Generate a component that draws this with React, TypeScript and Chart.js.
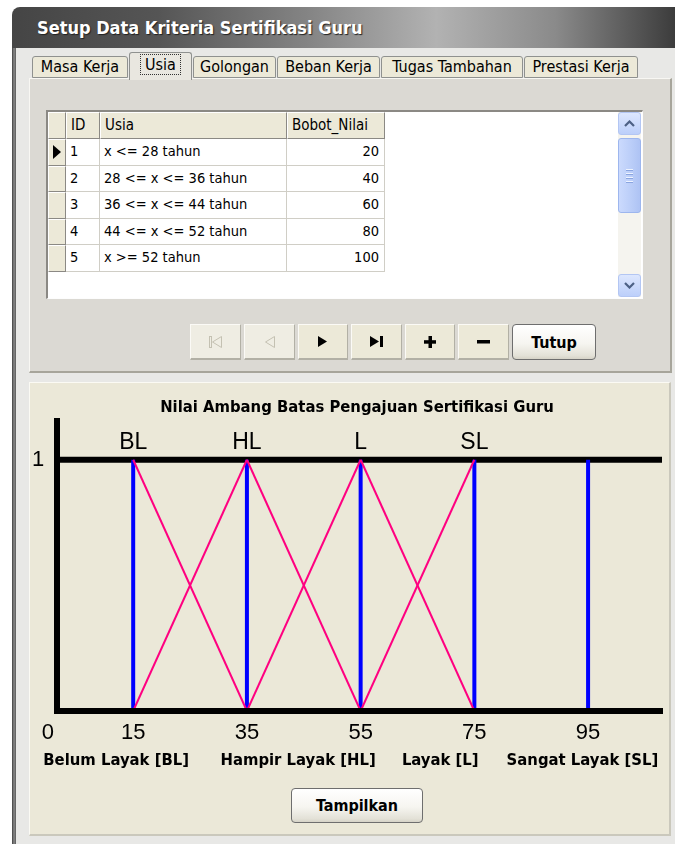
import React, { useEffect, useRef } from "react";
import { Chart, registerables } from "chart.js";

Chart.register(...registerables);

// ---------------- data ----------------
const windowTitle = "Setup Data Kriteria Sertifikasi Guru";
const tabNames = ["Masa Kerja", "Usia", "Golongan", "Beban Kerja", "Tugas Tambahan", "Prestasi Kerja"];
const gridHeaders = ["ID", "Usia", "Bobot_Nilai"];
const gridIds = [1, 2, 3, 4, 5];
const gridUsia = ["x <= 28 tahun", "28 <= x <= 36 tahun", "36 <= x <= 44 tahun", "44 <= x <= 52 tahun", "x >= 52 tahun"];
const gridBobot = [20, 40, 60, 80, 100];

const chartTitle = "Nilai Ambang Batas Pengajuan Sertifikasi Guru";
const levelCodes = ["BL", "HL", "L", "SL"];
const levelPeaks = [15, 35, 55, 75];
const thresholdLines = [15, 35, 55, 75, 95];
const xTickValues = [0, 15, 35, 55, 75, 95];
const yTickValues = [1];
const levelNames = ["Belum Layak [BL]", "Hampir Layak [HL]", "Layak [L]", "Sangat Layak [SL]"];
const levelNameAnchors = [12, 44, 69, 94];
const membershipTop = 1;
const xRange = [1.6, 108];
const yRange = [0, 1.155];

// ---------------- styling ----------------
const UI_FONT = "'DejaVu Sans Condensed', 'Liberation Sans', Arial, sans-serif";
const ARIAL = "'Liberation Sans', Arial, sans-serif";

function FuzzyChart() {
  const ref = useRef<HTMLCanvasElement>(null);
  useEffect(() => {
    const cv = ref.current;
    if (!cv) return;
    const pink = "#ff0080";
    const blue = "#0000ff";
    const datasets: any[] = [];
    for (let i = 0; i < levelPeaks.length - 1; i++) {
      const a = levelPeaks[i];
      const b = levelPeaks[i + 1];
      datasets.push({ data: [{ x: a, y: membershipTop }, { x: b, y: 0 }], borderColor: pink, borderWidth: 2 });
      datasets.push({ data: [{ x: a, y: 0 }, { x: b, y: membershipTop }], borderColor: pink, borderWidth: 2 });
    }
    thresholdLines.forEach((v) =>
      datasets.push({ data: [{ x: v, y: 0 }, { x: v, y: membershipTop }], borderColor: blue, borderWidth: 4 })
    );
    datasets.push({
      data: [{ x: xRange[0], y: membershipTop }, { x: xRange[1], y: membershipTop }],
      borderColor: "#000",
      borderWidth: 6,
    });
    datasets.forEach((d) => {
      d.showLine = true;
      d.pointRadius = 0;
      d.pointHoverRadius = 0;
      d.fill = false;
      d.borderCapStyle = "butt";
    });

    const chart = new Chart(cv, {
      type: "scatter",
      data: { datasets },
      options: {
        animation: false,
        responsive: false,
        devicePixelRatio: 1,
        events: [],
        layout: { padding: { left: 23, right: 8, top: 0, bottom: 7 } },
        plugins: {
          legend: { display: false },
          tooltip: { enabled: false },
          title: {
            display: true,
            text: chartTitle,
            color: "#000",
            font: { family: UI_FONT, size: 16.5, weight: "bold" },
            padding: { top: 16, bottom: 3 },
          },
        },
        scales: {
          x: {
            type: "linear",
            position: "bottom",
            weight: 0,
            min: xRange[0],
            max: xRange[1],
            grid: { display: false, drawTicks: false },
            border: { display: true, color: "#000", width: 6, z: 1 },
            afterBuildTicks: (s: any) => {
              s.ticks = xTickValues.map((v) => ({ value: v }));
            },
            afterFit: (s: any) => {
              s.height = 30;
            },
            ticks: {
              autoSkip: false,
              maxRotation: 0,
              padding: 9,
              color: "#000",
              font: { family: ARIAL, size: 22 },
              callback: (v: any) => String(v),
            },
          },
          x2: {
            type: "linear",
            position: "top",
            min: xRange[0],
            max: xRange[1],
            grid: { display: false, drawTicks: false },
            border: { display: false },
            afterBuildTicks: (s: any) => {
              s.ticks = levelPeaks.map((v) => ({ value: v }));
            },
            afterFit: (s: any) => {
              s.height = 0;
            },
            ticks: {
              mirror: true,
              autoSkip: false,
              maxRotation: 0,
              padding: 8,
              color: "#000",
              font: { family: ARIAL, size: 23 },
              callback: (_v: any, i: number) => levelCodes[i],
            },
          },
          x3: {
            type: "linear",
            position: "bottom",
            weight: 1,
            min: xRange[0],
            max: xRange[1],
            grid: { display: false, drawTicks: false },
            border: { display: false },
            afterBuildTicks: (s: any) => {
              s.ticks = levelNameAnchors.map((v) => ({ value: v }));
            },
            afterFit: (s: any) => {
              s.height = 30;
            },
            ticks: {
              autoSkip: false,
              maxRotation: 0,
              padding: 10,
              color: "#000",
              font: { family: UI_FONT, size: 16.5, weight: "bold" },
              callback: (_v: any, i: number) => levelNames[i],
            },
          },
          y: {
            type: "linear",
            min: yRange[0],
            max: yRange[1],
            grid: { display: false, drawTicks: false },
            border: { display: true, color: "#000", width: 6 },
            afterBuildTicks: (s: any) => {
              s.ticks = yTickValues.map((v) => ({ value: v }));
            },
            afterFit: (s: any) => {
              s.width = 5;
            },
            ticks: {
              mirror: true,
              padding: -25,
              color: "#000",
              font: { family: ARIAL, size: 22 },
              callback: (v: any) => String(v),
            },
          },
        },
      } as any,
    });
    return () => chart.destroy();
  }, []);
  return (
    <canvas
      ref={ref}
      width={641}
      height={396}
      style={{ position: "absolute", left: 29, top: 382, width: 641, height: 396, display: "block" }}
    />
  );
}

const abs = (l: number, t: number, w: number, h: number, extra: React.CSSProperties = {}): React.CSSProperties => ({
  position: "absolute",
  left: l,
  top: t,
  width: w,
  height: h,
  boxSizing: "border-box",
  ...extra,
});

const tabBoxes = [
  [32, 128],
  [129, 192],
  [193, 276],
  [277, 380],
  [381, 523],
  [524, 638],
];
const selectedTab = 1;

const colX = [48, 66, 100, 287, 385];
const headerTop = 112;
const headerH = 27;
const rowH = 26.6;

const navBoxes = [
  [190, 241],
  [244, 295],
  [298, 348],
  [351, 402],
  [405, 455],
  [458, 509],
];

function NavIcon({ i }: { i: number }) {
  const gray = "#c4c1b2";
  if (i === 0)
    return (
      <svg width="14" height="12" viewBox="0 0 14 12">
        <rect x="0.5" y="0.5" width="2" height="11" fill="none" stroke={gray} />
        <polygon points="12.5,0.5 3.5,6 12.5,11.5" fill="none" stroke={gray} />
      </svg>
    );
  if (i === 1)
    return (
      <svg width="12" height="12" viewBox="0 0 12 12">
        <polygon points="10.5,0.5 1.5,6 10.5,11.5" fill="none" stroke={gray} />
      </svg>
    );
  if (i === 2)
    return (
      <svg width="10" height="11" viewBox="0 0 10 11">
        <polygon points="0,0 9,5.5 0,11" fill="#000" />
      </svg>
    );
  if (i === 3)
    return (
      <svg width="13" height="11" viewBox="0 0 13 11">
        <polygon points="0,0 9,5.5 0,11" fill="#000" />
        <rect x="10" y="0" width="3" height="11" fill="#000" />
      </svg>
    );
  if (i === 4)
    return (
      <svg width="12" height="12" viewBox="0 0 12 12">
        <rect x="4.5" y="0" width="3.5" height="12" fill="#000" />
        <rect x="0" y="4.2" width="12" height="3.5" fill="#000" />
      </svg>
    );
  return (
    <svg width="13" height="4" viewBox="0 0 13 4">
      <rect x="0" y="0" width="13" height="3.5" fill="#000" />
    </svg>
  );
}

const xpButton: React.CSSProperties = {
  background: "linear-gradient(#ffffff 0%, #f6f5f0 55%, #e3e1d7 90%, #d6d3c7 100%)",
  border: "1px solid #6e6e6e",
  borderRadius: 4,
  fontFamily: UI_FONT,
  fontWeight: "bold",
  fontSize: 16,
  color: "#000",
  display: "flex",
  alignItems: "center",
  justifyContent: "center",
};

function Chevron({ up }: { up: boolean }) {
  return (
    <svg width="11" height="7" viewBox="0 0 11 7">
      <polyline
        points={up ? "1,6 5.5,1.5 10,6" : "1,1 5.5,5.5 10,1"}
        fill="none"
        stroke="#4d6185"
        strokeWidth="2.2"
      />
    </svg>
  );
}

export default function App() {
  return (
    <div style={abs(0, 0, 675, 844, { overflow: "hidden", background: "#fff", fontFamily: UI_FONT, color: "#000" })}>
      {/* window body */}
      <div style={abs(16, 44, 659, 800, { background: "#e8e8e6" })} />
      <div style={abs(12, 30, 4, 814, { background: "linear-gradient(to right,#3c3c3c,#8a8a8a,#5a5a5a)" })} />
      {/* title bar */}
      <div
        style={abs(12, 7, 663, 41, {
          borderTopLeftRadius: 8,
          background:
            "linear-gradient(to right,#454545 0%,#555555 22%,#858585 45%,#b2b2b2 64%,#8a8a8a 82%,#3c3c3c 100%)",
        })}
      >
        <div
          style={{
            position: "absolute",
            left: 25,
            top: 10,
            color: "#fff",
            fontWeight: "bold",
            fontSize: 18,
            lineHeight: "22px",
            whiteSpace: "nowrap",
            textShadow: "1px 1px 1px #222",
          }}
        >
          {windowTitle}
        </div>
      </div>

      {/* tab panel */}
      <div
        style={abs(29, 78, 643, 295, {
          background: "#dbd9d3",
          borderLeft: "1px solid #f8f7f3",
          borderTop: "1px solid #f8f7f3",
          borderRight: "2px solid #a7a59b",
          borderBottom: "2px solid #a7a59b",
        })}
      />
      {tabNames.map((name, i) => {
        const [x0, x1] = tabBoxes[i];
        const sel = i === selectedTab;
        return (
          <div
            key={name}
            style={abs(x0, sel ? 52 : 56, x1 - x0, sel ? 28 : 22, {
              background: sel ? "#e9e7e0" : "#ece9d8",
              border: "1px solid #8f918f",
              borderBottom: sel ? "none" : "1px solid #8f918f",
              borderRadius: "3px 3px 0 0",
              fontSize: 16,
              lineHeight: sel ? "24px" : "20px",
              textAlign: "center",
              whiteSpace: "nowrap",
            })}
          >
            {sel ? (
              <span
                style={{
                  display: "inline-block",
                  border: "1px dotted #333",
                  padding: "0 4px",
                  lineHeight: "19px",
                  marginTop: 1,
                }}
              >
                {name}
              </span>
            ) : (
              name
            )}
          </div>
        );
      })}

      {/* grid */}
      <div
        style={abs(46, 110, 597, 189, {
          background: "#fff",
          borderTop: "2px solid #8b8984",
          borderLeft: "2px solid #8b8984",
          borderRight: "1px solid #fdfdfd",
          borderBottom: "1px solid #fdfdfd",
        })}
      />
      {[0, 1, 2, 3].map((c) => (
        <div
          key={"h" + c}
          style={abs(colX[c], headerTop, colX[c + 1] - colX[c], headerH, {
            background: "#ece9d8",
            borderLeft: "1px solid #fff",
            borderTop: "1px solid #fff",
            borderRight: "1px solid #8b8984",
            borderBottom: "1px solid #8b8984",
            fontSize: 15,
            lineHeight: "25px",
            paddingLeft: 4,
            whiteSpace: "nowrap",
          })}
        >
          {c === 0 ? "" : gridHeaders[c - 1]}
        </div>
      ))}
      {gridIds.map((id, r) => {
        const top = headerTop + headerH + r * rowH;
        const cells = [String(id), gridUsia[r], String(gridBobot[r])];
        return (
          <React.Fragment key={"r" + r}>
            <div
              style={abs(colX[0], top, colX[1] - colX[0], rowH, {
                background: "#ece9d8",
                borderLeft: "1px solid #fff",
                borderTop: "1px solid #fff",
                borderRight: "1px solid #8b8984",
                borderBottom: "1px solid #8b8984",
                display: "flex",
                alignItems: "center",
                justifyContent: "center",
              })}
            >
              {r === 0 ? (
                <svg width="9" height="14" viewBox="0 0 9 14">
                  <polygon points="0,0 8,7 0,14" fill="#000" />
                </svg>
              ) : null}
            </div>
            {cells.map((t, c) => (
              <div
                key={c}
                style={abs(colX[c + 1], top, colX[c + 2] - colX[c + 1], rowH, {
                  borderRight: "1px solid #d0cec6",
                  borderBottom: "1px solid #d0cec6",
                  fontSize: 14.5,
                  lineHeight: "25px",
                  paddingLeft: 4,
                  paddingRight: 5,
                  textAlign: c === 2 ? "right" : "left",
                  whiteSpace: "nowrap",
                })}
              >
                {t}
              </div>
            ))}
          </React.Fragment>
        );
      })}
      {/* scrollbar */}
      <div style={abs(618, 112, 23, 185, { background: "#f5f4ef" })} />
      <div
        style={abs(618, 112, 23, 23, {
          background: "linear-gradient(#dde7fe,#bccffa)",
          border: "1px solid #b3c6f3",
          borderRadius: 3,
          display: "flex",
          alignItems: "center",
          justifyContent: "center",
        })}
      >
        <Chevron up />
      </div>
      <div
        style={abs(618, 138, 23, 75, {
          background: "linear-gradient(to right,#cbdafd,#bacdf8 60%,#aec3f4)",
          border: "1px solid #9db6ee",
          borderRadius: 3,
          display: "flex",
          flexDirection: "column",
          alignItems: "center",
          justifyContent: "center",
          gap: 2,
        })}
      >
        {[0, 1, 2, 3].map((k) => (
          <div key={k} style={{ width: 7, height: 1, background: "#eef3ff", borderBottom: "1px solid #8aa5e0" }} />
        ))}
      </div>
      <div
        style={abs(618, 274, 23, 23, {
          background: "linear-gradient(#dde7fe,#bccffa)",
          border: "1px solid #b3c6f3",
          borderRadius: 3,
          display: "flex",
          alignItems: "center",
          justifyContent: "center",
        })}
      >
        <Chevron up={false} />
      </div>

      {/* navigator buttons */}
      {navBoxes.map(([x0, x1], i) => (
        <div
          key={"n" + i}
          style={abs(x0, 324, x1 - x0, 36, {
            background: i < 2 ? "#efede3" : "#ece9d8",
            borderTop: "1px solid #fbfaf6",
            borderLeft: "1px solid #fbfaf6",
            borderRight: "1px solid #b2b0a5",
            borderBottom: "2px solid #b2b0a5",
            display: "flex",
            alignItems: "center",
            justifyContent: "center",
          })}
        >
          <NavIcon i={i} />
        </div>
      ))}
      <div style={abs(512, 324, 84, 36, xpButton)}>Tutup</div>

      {/* chart panel */}
      <div
        style={abs(29, 382, 642, 454, {
          background: "#ebe8d8",
          borderTop: "1px solid #fbfaf4",
          borderLeft: "1px solid #fbfaf4",
          borderRight: "2px solid #cac8bc",
          borderBottom: "2px solid #cac8bc",
        })}
      />
      <FuzzyChart />
      <div style={abs(291, 788, 132, 35, xpButton)}>Tampilkan</div>
    </div>
  );
}
